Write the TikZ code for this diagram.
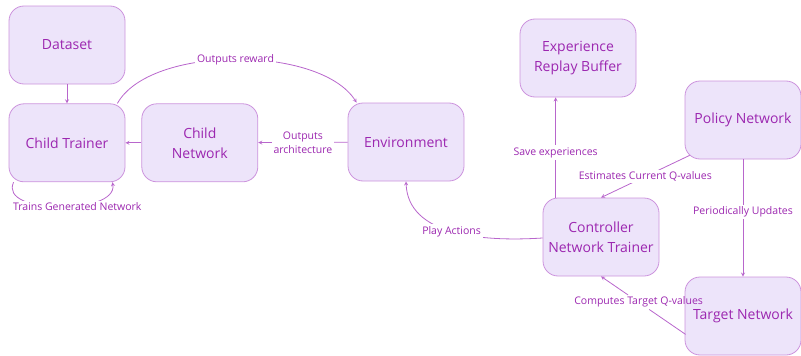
\documentclass[tikz,border=0pt]{standalone}
\usepackage{fontspec}
\setmainfont{Open Sans}
\usepackage{xcolor}
\usetikzlibrary{arrows, positioning, calc}
\definecolor{boxfill}{HTML}{EDE4FA}
\definecolor{boxline}{HTML}{CC93DD}
\definecolor{textpurple}{HTML}{9C27B0}
\definecolor{linepurple}{HTML}{B866CC}
\tikzstyle{block} = [rectangle, rounded corners=15pt, minimum width=116pt, minimum height=78pt, text centered, align=center, draw=boxline, line width=0.8pt, fill=boxfill, text=textpurple, font=\fontsize{14}{20}\selectfont]
\tikzstyle{line} = [draw=linepurple, line width=0.8pt]
\tikzstyle{arrow} = [line, ->, >=stealth]
\tikzstyle{lbl} = [fill=white, text=textpurple, font=\fontsize{10.5}{14}\selectfont, inner sep=2pt, align=center]

\begin{document}
\begin{tikzpicture}[x=1pt, y=-1pt]
\useasboundingbox (0,0) rectangle (801,356);

\node (dataset) [block] at (67,45) {Dataset};
\node (trainer) [block, below=19pt of dataset] {Child Trainer};
\node (child) [block, right=16pt of trainer] {Child\\Network};
\node (env) [block] at (406,142) {Environment};
\node (buffer) [block] at (578,58) {Experience\\Replay Buffer};
\node (policy) [block] at (743,120) {Policy Network};
\node (controller) [block] at (601,237) {Controller\\Network Trainer};
\node (target) [block] at (743,316) {Target Network};

\draw [arrow] (dataset) -- (trainer);
\draw [arrow] (child) -- (trainer);
\draw [arrow] (env) -- node[lbl] {Outputs\\architecture} (child);
\draw [arrow] ($(trainer.north east)+(-8,0)$) .. controls (150,45) and (320,45) .. node[lbl] {Outputs reward} ($(env.north west)+(9,0)$);
\draw [arrow] ($(trainer.south west)+(5,0)$) .. controls (-2,215) and (118,215) .. node[lbl, xshift=18pt] {Trains Generated Network} ($(trainer.south east)+(-13,0)$);

% controller side
\coordinate (save) at ($(controller.north west)+(13,0)$);
\draw [arrow] (save) -- node[lbl, pos=0.45] {Save experiences} (save |- buffer.south);
\draw [arrow] ($(policy.south west)+(5,-4)$) -- node[lbl] {Estimates Current Q-values} (controller.north);
\draw [arrow] (policy) -- node[lbl, pos=0.45] {Periodically Updates} (target);
\draw [arrow] ($(controller.west)+(0,1)$) .. controls (480,242) and (408,235) .. node[lbl] {Play Actions} (env.south);

\coordinate (tq) at ($(target.south west)+(1,-21)$);
\path (tq) -- coordinate[pos=0.43] (cqa) coordinate[pos=0.68] (cqb) (controller.south);
\draw [line] (tq) -- (cqa);
\draw [arrow] (cqb) -- (controller.south);
\node (cqlabel) [lbl, fill=none] at ($(cqa)!0.5!(cqb)$) {Computes Target Q-values};

\end{tikzpicture}
\end{document}
